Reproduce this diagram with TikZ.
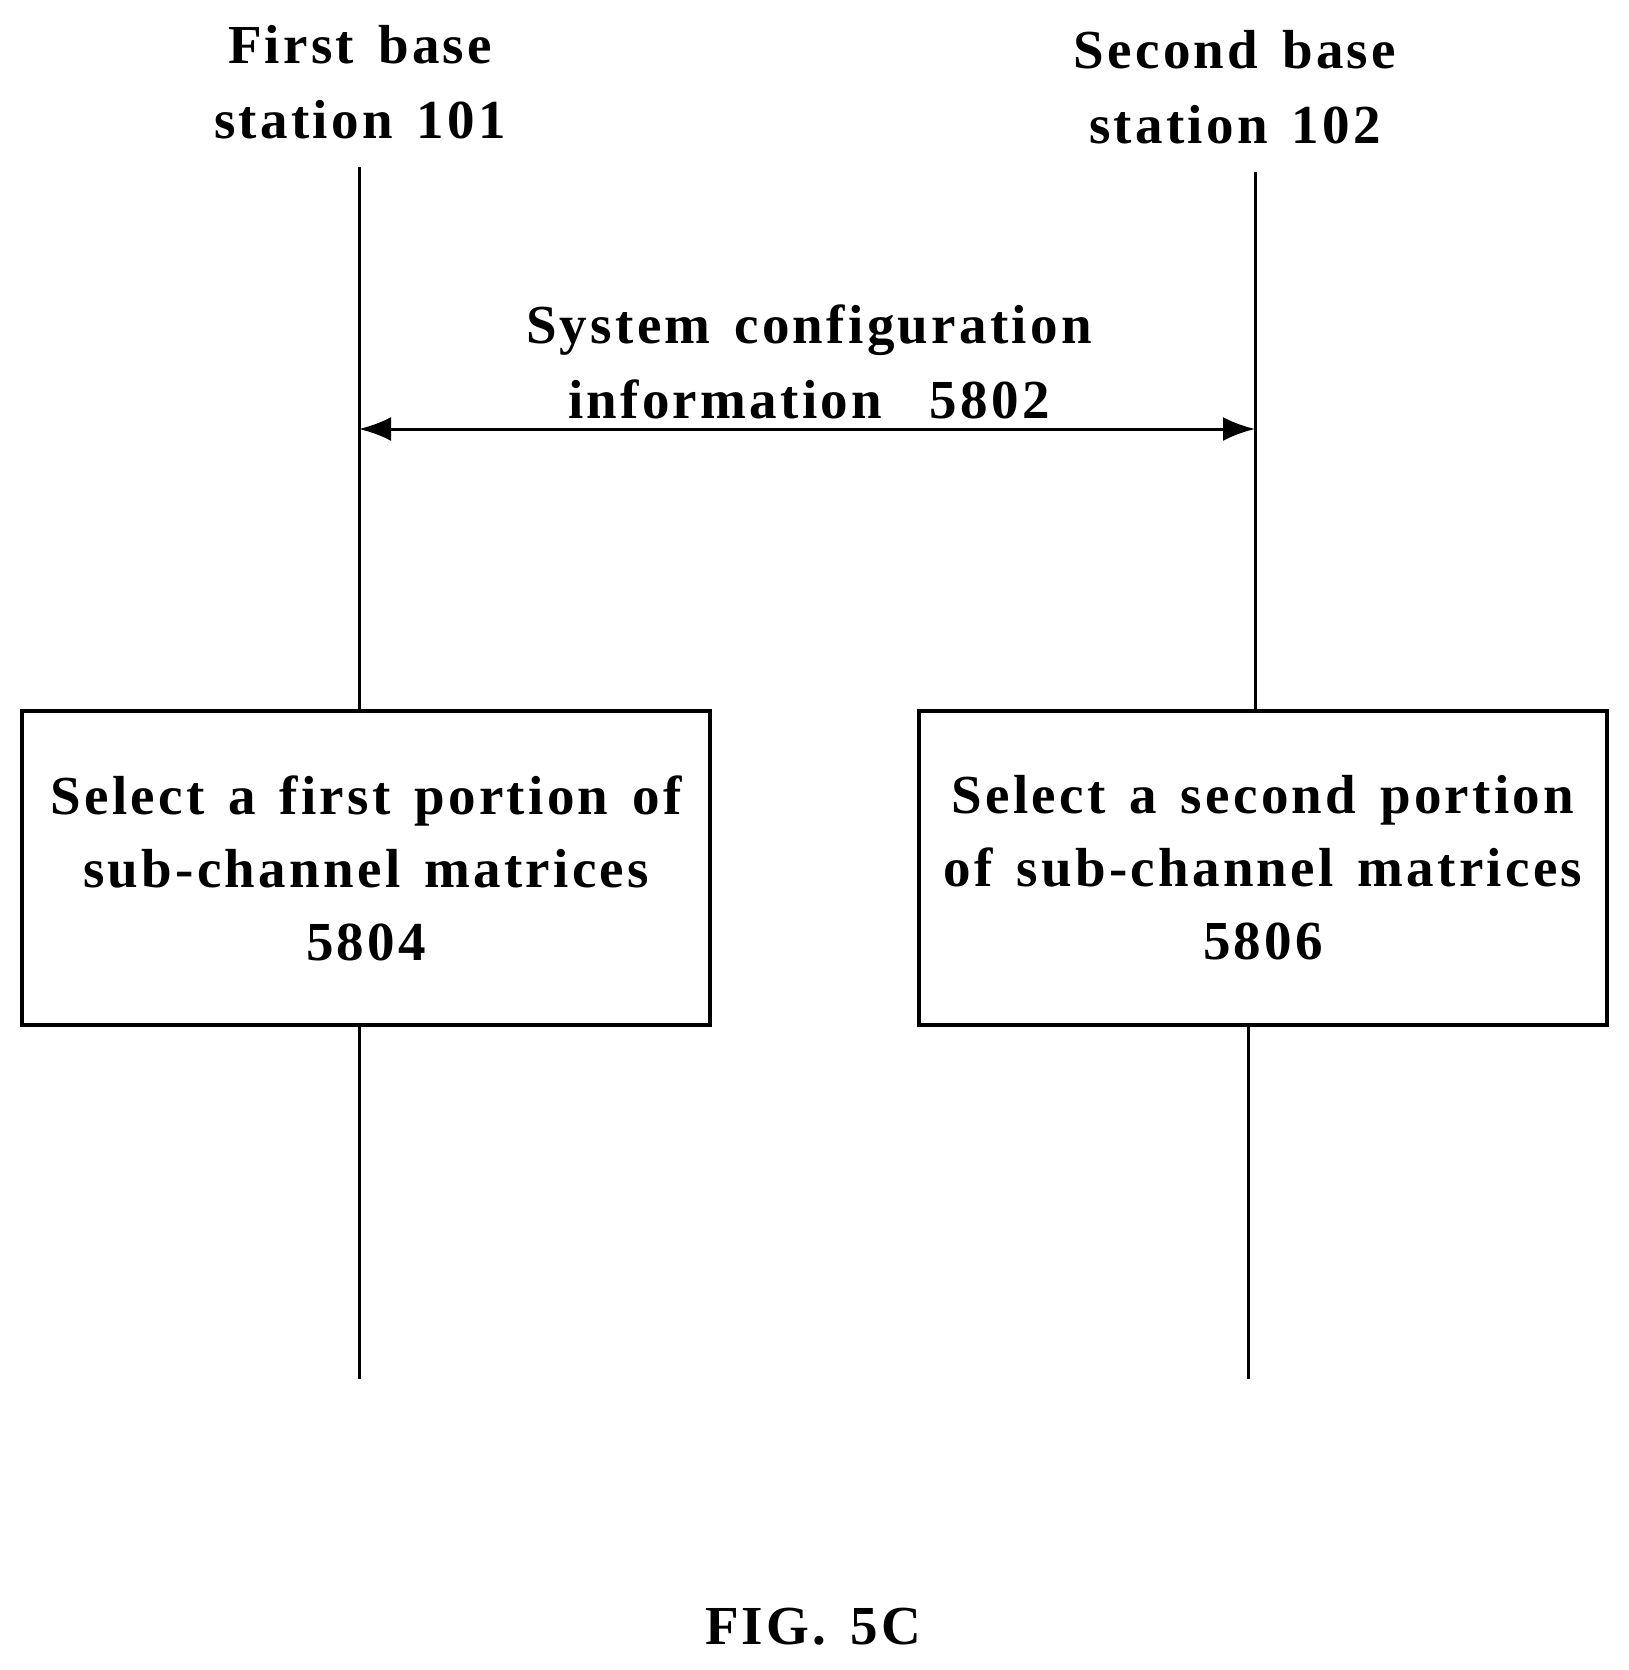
\documentclass[tikz,border=0pt]{standalone}
\usetikzlibrary{arrows.meta}
\usepackage{fontspec}
\setmainfont{Liberation Serif}[LetterSpace=6,WordSpace=1.4]
\begin{document}
\begin{tikzpicture}[x=1pt,y=-1pt,line width=3pt,
  lbl/.style={font=\fontsize{55}{75}\selectfont\bfseries,align=center,inner sep=0},
  box/.style={draw,line width=4pt,minimum width=688pt,minimum height=314pt,font=\fontsize{55}{73}\selectfont\bfseries,align=center}]
\useasboundingbox (0,0) rectangle (1629,1670);
\node[lbl] (t1) at (360,82) {First base\\station 101};
\node[lbl] (t2) at (1235,87) {Second base\\station 102};
\node[lbl] (msg) at (809,362) {System configuration\\information\ \ 5802};
\node[box] (b1) at (366,868) {Select a first portion of\\sub-channel matrices\\5804};
\node[box] (b2) at (1263,868) {Select a second portion\\of sub-channel matrices\\5806};
\coordinate (a1) at (359,167); \coordinate (a2) at (359,1379);
\coordinate (c1) at (1255,172); \coordinate (c2) at (1248,1379);
\draw (a1) -- (a1 |- b1.north);
\draw (a1 |- b1.south) -- (a2);
\draw (c1) -- (c1 |- b2.north);
\draw (c2 |- b2.south) -- (c2);
\coordinate (l) at (359,429); \coordinate (r) at (1255,429);
\draw[{Latex[length=32pt,width=24pt]}-{Latex[length=32pt,width=24pt]}] (l) -- (r);
\node[lbl] (fig) at (813,1627) {FIG. 5C};
\end{tikzpicture}
\end{document}
